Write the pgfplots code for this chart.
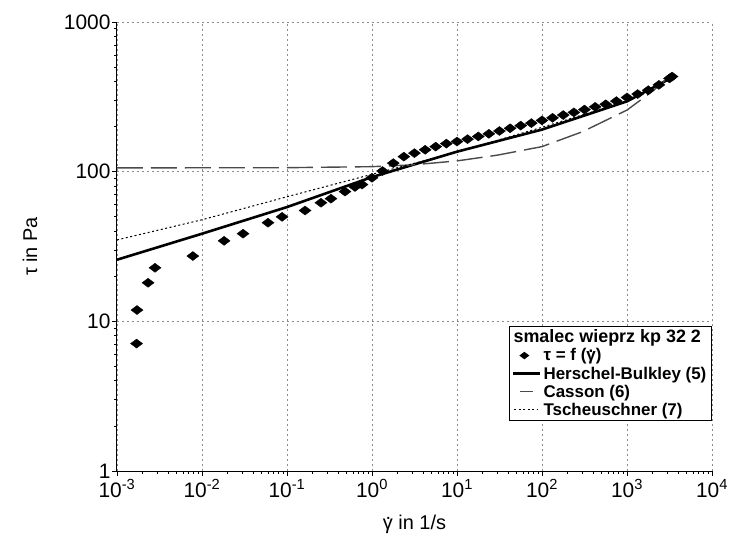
\documentclass[border=0pt]{standalone}
\usepackage{fontspec}
\setmainfont{Liberation Sans}
\usepackage{pgfplots}
\pgfplotsset{compat=1.18}
\definecolor{cassongray}{HTML}{4A4A4A}
\definecolor{gridgray}{HTML}{8C8C8C}
% gamma with a dot above (shear rate)
\newcommand{\gdot}{\leavevmode\rlap{\hspace{0.13em}\raisebox{0.5em}{.}}γ}

\begin{document}
\begin{tikzpicture}
\path[use as bounding box] (-117bp,-67bp) rectangle (616bp,471bp);
\begin{axis}[
    at={(0,0)}, anchor=south west,
    width=595bp, height=449bp, scale only axis,
    xmode=log, ymode=log,
    xmin=1e-3, xmax=1e4, ymin=1, ymax=1000,
    axis lines*=left,
    axis line style={line width=1bp, -},
    tick align=outside,
    major tick length=5bp, minor tick length=3bp,
    tick style={black, line width=0.8bp},
    xtick={1e-3,1e-2,1e-1,1,10,100,1000,10000},
    xticklabels={10\textsuperscript{-3},10\textsuperscript{-2},10\textsuperscript{-1},10\textsuperscript{0},10\textsuperscript{1},10\textsuperscript{2},10\textsuperscript{3},10\textsuperscript{4}},
    ytick={1,10,100,1000},
    yticklabels={1,10,100,1000},
    ticklabel style={font=\fontsize{21}{24}\selectfont},
    xticklabel style={yshift=0bp},
    yticklabel style={xshift=2bp},
    grid=major,
    major grid style={gridgray, line width=0.9bp, dash pattern=on 2bp off 3bp},
    xlabel={\gdot{} in 1/s},
    ylabel={τ in Pa},
    label style={font=\fontsize{20}{23}\selectfont},
    xlabel style={at={(axis description cs:0.5,0)}, anchor=center, yshift=-53bp},
    ylabel style={at={(axis description cs:0,0.5)}, anchor=center, yshift=87bp},
    legend cell align=left,
    legend style={at={(rel axis cs:1,0.112)}, anchor=south east,
        draw=black, line width=1.2bp, fill=white,
        font=\bfseries\fontsize{17}{18}\selectfont,
        inner xsep=3bp, inner ysep=1.5bp, row sep=0.3bp},
]
\addlegendimage{empty legend}
\addlegendentry{\hspace*{-30bp}\fontsize{18}{18}\selectfont smalec wieprz kp 32 2}

% measured data
\addplot[only marks, mark=diamond*, mark size=6bp, mark options={rotate=90, fill=black, draw=black},
    legend image code/.code={\draw[mark=diamond*, mark size=4bp, mark options={rotate=90, fill=black}] plot coordinates {(11bp,0bp)};}]
coordinates {
    (0.00170,7.1) (0.00172,11.9) (0.00232,18.1) (0.0028,22.8) (0.0078,27.3)
    (0.0182,34.5) (0.0304,38.5) (0.0598,45.6) (0.0875,49.9) (0.163,55)
    (0.251,62) (0.329,66) (0.481,73.6) (0.63,79) (0.763,82)
    (1,91) (1.33,101) (1.78,114) (2.37,126) (3.16,133) (4.22,140) (5.62,147)
    (7.5,154) (10,159) (13.3,165) (17.8,172) (23.7,179) (31.6,187) (42.2,195)
    (56.2,203) (75,211) (100,220) (133,229) (178,239) (237,249) (316,260)
    (422,271) (562,282) (750,296) (1000,313) (1334,330) (1778,350) (2371,380)
    (3162,420) (3390,432)
};
\addlegendentry{τ = f (\gdot)}

% Herschel-Bulkley
\addplot[black, line width=2.6bp, legend image code/.code={\draw[black, line width=2.4bp] (0bp,0bp) -- (27bp,0bp);}]
coordinates {
    (0.001,25.8) (0.01,38.5) (0.1,58) (1,92) (10,136) (100,191) (1000,295) (3380,425)
};
\addlegendentry{Herschel-Bulkley (5)}

% Casson
\addplot[cassongray, line width=1.4bp, dash pattern=on 26bp off 8bp,
    legend image code/.code={\draw[cassongray, line width=1.2bp] (7bp,0bp) -- (20bp,0bp);}]
coordinates {
    (0.001,106) (0.1,106.3) (1,108) (3,111) (10,118) (30,129) (100,147)
    (300,185) (1000,258) (2000,345) (3000,420)
};
\addlegendentry{Casson (6)}

% Tscheuschner
\addplot[black, line width=1bp, dash pattern=on 2bp off 2.5bp,
    legend image code/.code={\draw[black, line width=1bp, dash pattern=on 2bp off 2.5bp] (1bp,0bp) -- (25bp,0bp);}]
coordinates {
    (0.001,35) (0.01,47.7) (0.1,68) (1,96) (10,135) (100,198) (1000,295) (3380,425)
};
\addlegendentry{Tscheuschner (7)}
\end{axis}
\end{tikzpicture}
\end{document}
